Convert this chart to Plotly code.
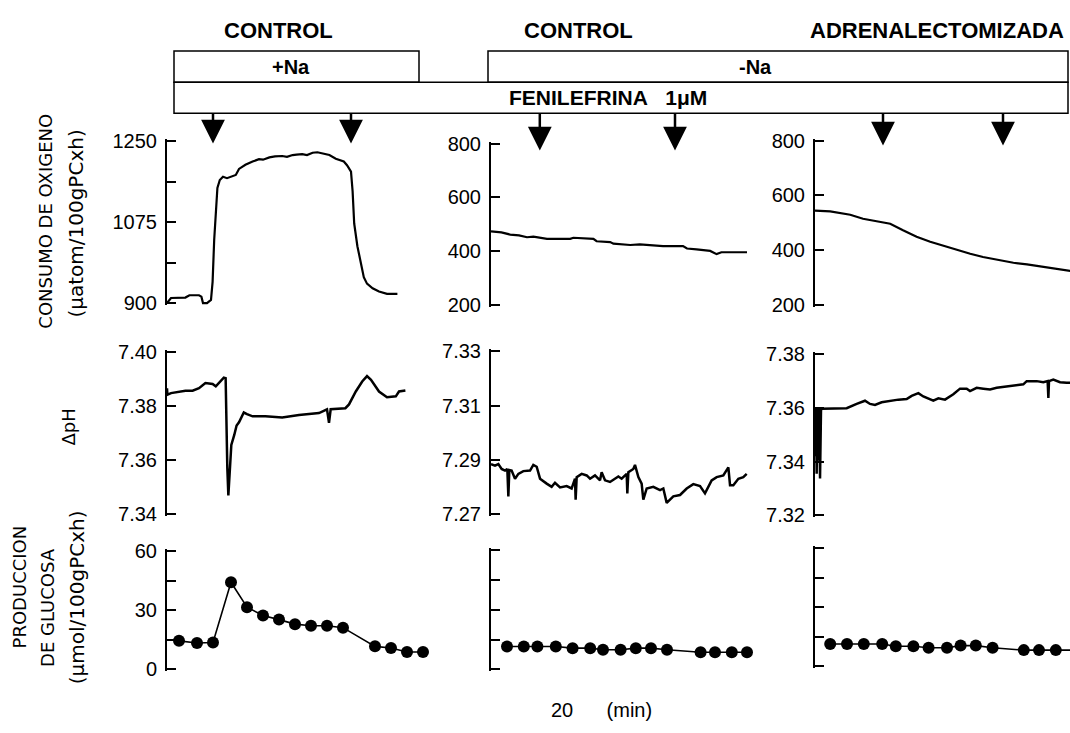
import plotly.graph_objects as go

W, H = 1070, 733

# ---------------- Oxygen consumption (time in min, µatom/100gPC·h) ----------------
t_o2_ctrl_na = [0.0, 0.5, 2.3, 2.8, 4.0, 4.3, 4.5, 5.0, 5.5, 5.7, 5.9, 6.1, 6.3, 6.6, 7.0, 7.5,
                8.2, 8.6, 9.0, 9.8, 10.7, 11.5, 12.0, 12.8, 13.5, 14.4, 15.0, 15.7, 16.2, 16.9,
                17.5, 18.2, 18.8, 19.4, 20.3, 21.1, 22.1, 22.5, 23.0, 23.2, 23.4, 23.8, 24.2,
                24.6, 25.0, 25.7, 26.5, 27.5, 28.8]
o2_ctrl_na = [900, 911, 912, 917, 917, 914, 900, 900, 907, 946, 1037, 1100, 1149, 1166, 1173, 1170,
              1174, 1177, 1190, 1199, 1206, 1211, 1210, 1215, 1217, 1218, 1216, 1220, 1221, 1222,
              1220, 1225, 1226, 1224, 1220, 1212, 1206, 1198, 1184, 1142, 1072, 1023, 988,
              956, 942, 932, 925, 920, 920]

t_o2_ctrl_sin_na = [0, 1.3, 2.4, 3.5, 4.5, 5.3, 7.0, 9.9, 10.3, 12.8, 13.2, 14.9, 15.3, 17.4,
                    18.6, 21.5, 24.0, 24.5, 25.7, 27.4, 28.2, 28.8, 32.0]
o2_ctrl_sin_na = [473, 469, 461, 458, 451, 453, 445, 445, 449, 445, 436, 433, 427, 422,
                  424, 418, 418, 409, 406, 400, 388, 395, 395]

t_o2_adx = [0, 1.9, 4.4, 6.0, 7.7, 9.4, 11.0, 12.7, 14.4, 16.0, 17.7, 19.4, 21.0, 22.7, 24.8,
            26.5, 28.5, 30.2, 31.9]
o2_adx = [544, 541, 529, 514, 505, 496, 472, 448, 430, 415, 400, 386, 374, 365, 353,
          347, 338, 332, 323]

# ---------------- pH ----------------
t_ph_ctrl_na = [0.0, 0.05, 0.5, 1.1, 2.3, 3.2, 4.0, 4.8, 5.7, 6.1, 6.5, 7.1, 7.33, 7.42, 7.54,
                7.67, 7.83, 8.04, 8.4, 8.7, 9.0, 9.6, 10.0, 10.7, 12.3, 14.4, 16.5, 19.0, 20.0,
                20.25, 20.46, 22.3, 22.75, 23.6, 24.4, 25.0, 25.5, 26.5, 27.5, 28.6, 29.0, 29.8]
ph_ctrl_na = [7.3867, 7.3843, 7.3849, 7.3852, 7.3858, 7.3858, 7.3867, 7.3886, 7.3883, 7.3874,
              7.3888, 7.3906, 7.3904, 7.3717, 7.3572, 7.3470, 7.3560, 7.3657, 7.3693, 7.3729,
              7.3741, 7.3777, 7.3771, 7.3763, 7.3763, 7.3759, 7.3768, 7.3775, 7.3789, 7.3739,
              7.3789, 7.3793, 7.3807, 7.3855, 7.3892, 7.3912, 7.3898, 7.3855, 7.3834, 7.3837,
              7.3855, 7.3859]

t_ph_ctrl_sin_na = [0, 0.5, 0.92, 1.33, 1.75, 2.04, 2.17, 2.29, 2.58, 3.0, 3.42, 4.04, 4.88, 5.29,
                    5.71, 6.13, 6.96, 7.58, 8.0, 8.63, 9.46, 10.08, 10.5, 10.58, 10.71, 11.33,
                    11.96, 12.38, 13.0, 13.63, 13.83, 14.25, 14.88, 15.5, 15.92, 16.33, 16.96,
                    17.04, 17.17, 17.79, 18.0, 18.42, 18.83, 19.04, 19.46, 20.29, 21.13, 21.54,
                    21.96, 22.79, 23.63, 24.46, 25.29, 26.13, 26.75, 27.58, 28.21, 29.04, 29.67,
                    29.88, 30.29, 30.92, 31.54, 31.96]
ph_ctrl_sin_na = [7.2885, 7.2879, 7.2885, 7.2867, 7.2861, 7.2867, 7.2766, 7.2863, 7.2861, 7.2831,
                  7.2849, 7.2859, 7.2861, 7.2882, 7.2875, 7.2831, 7.2813, 7.2801, 7.2816, 7.2799,
                  7.2804, 7.2795, 7.2831, 7.2754, 7.2837, 7.2849, 7.2843, 7.2831, 7.2843, 7.2825,
                  7.2855, 7.2825, 7.2819, 7.2831, 7.2839, 7.2831, 7.2849, 7.2777, 7.2855, 7.2867,
                  7.2882, 7.2837, 7.2813, 7.2754, 7.2795, 7.2801, 7.2789, 7.2795, 7.2742, 7.2766,
                  7.2771, 7.2795, 7.2811, 7.2804, 7.2777, 7.2825, 7.2837, 7.2843, 7.2873, 7.2807,
                  7.2807, 7.2831, 7.2837, 7.2849]

t_ph_adx = [0, 0.08, 0.13, 0.21, 0.27, 0.33, 0.42, 0.48, 0.54, 0.63, 0.69, 0.75, 0.83, 2.29, 3.96,
            5.21, 6.25, 6.88, 7.5, 8.33, 9.38, 10.42, 11.46, 12.08, 12.92, 13.54, 14.79, 15.42,
            16.25, 17.29, 18.13, 18.96, 19.38, 20.21, 21.04, 21.88, 22.71, 23.96, 24.79, 26.04,
            26.46, 27.71, 28.54, 29.08, 29.17, 29.25, 29.79, 30.63, 31.46, 31.88]
ph_adx = [7.3597, 7.3420, 7.3597, 7.3355, 7.3597, 7.3591, 7.3403, 7.3595, 7.3591, 7.3337, 7.3590,
          7.3591, 7.3597, 7.3597, 7.3599, 7.3615, 7.3627, 7.3615, 7.3611, 7.3621, 7.3627, 7.3631,
          7.3633, 7.3645, 7.3655, 7.3643, 7.3627, 7.3636, 7.3631, 7.3651, 7.3672, 7.3672, 7.3663,
          7.3675, 7.3672, 7.3669, 7.3675, 7.3679, 7.3684, 7.3688, 7.3700, 7.3700, 7.3696, 7.3700,
          7.3637, 7.3700, 7.3706, 7.3696, 7.3694, 7.3694]

# ---------------- Glucose production (µmol/100gPC·h) ----------------
t_glu_ctrl_na = [1.5, 3.75, 5.75, 8.0, 10.0, 12.0, 14.0, 16.0, 18.0, 20.0, 22.0, 26.0, 28.0, 30.0, 32.0]
glu_ctrl_na = [14.5, 13.4, 13.7, 44.3, 31.6, 27.4, 25.3, 23.0, 22.2, 22.2, 21.2, 11.7, 10.9, 8.8, 8.8]

t_glu_ctrl_sin_na = [2.0, 4.1, 5.8, 8.1, 10.2, 12.4, 14.0, 16.2, 18.1, 20.0, 22.0, 26.2, 28.0, 30.1, 32.0]
glu_ctrl_sin_na = [11.5, 11.5, 11.5, 11.5, 10.7, 10.7, 9.9, 9.9, 10.7, 10.7, 9.9, 8.6, 8.6, 8.6, 8.6]

t_glu_adx = [1.9, 4.0, 6.1, 8.4, 10.1, 12.3, 14.2, 16.5, 18.2, 20.1, 22.2, 26.1, 28.0, 30.1, 31.9]
glu_adx = [11.4, 11.4, 11.4, 11.4, 10.3, 10.3, 9.5, 9.5, 10.6, 10.6, 9.5, 8.3, 8.3, 8.3, 8.3]

# Phenylephrine additions / removals (min) per column
t_arrows = [[5.75, 23.0], [6.1, 23.0], [8.5, 23.5]]

# Axis scales
o2_ticks = [[900, 987.5, 1075, 1162.5, 1250], [200, 400, 600, 800], [200, 400, 600, 800]]
o2_labels = [["900", "", "1075", "", "1250"], ["200", "400", "600", "800"], ["200", "400", "600", "800"]]
ph_ticks = [[7.34, 7.36, 7.38, 7.40], [7.27, 7.29, 7.31, 7.33], [7.32, 7.34, 7.36, 7.38]]
ph_labels = [["7.34", "7.36", "7.38", "7.40"], ["7.27", "7.29", "7.31", "7.33"], ["7.32", "7.34", "7.36", "7.38"]]
glu_ticks = [0, 15, 30, 45, 60]
glu_labels = [["0", "", "30", "", "60"], [""] * 5, [""] * 5]


def px(x):
    return x / W


def py(y):
    return 1 - y / H


FONT = "Liberation Sans"
fig = go.Figure()

# column pixel extents and time windows
cols = [(167, 431, 33.0), (491, 755, 33.0), (815, 1070, 31.875)]
# row pixel extents (first and last tick) per column: (top, bottom)
rows_px = {
    "o2": [(135.5, 301.5), (138, 303), (135, 303)],
    "ph": [(352, 518), (351, 518), (354, 519)],
    "glu": [(556, 677), (555, 677), (553, 674)],
}

series = {
    "o2": [(t_o2_ctrl_na, o2_ctrl_na), (t_o2_ctrl_sin_na, o2_ctrl_sin_na), (t_o2_adx, o2_adx)],
    "ph": [(t_ph_ctrl_na, ph_ctrl_na), (t_ph_ctrl_sin_na, ph_ctrl_sin_na), (t_ph_adx, ph_adx)],
    "glu": [(t_glu_ctrl_na, glu_ctrl_na), (t_glu_ctrl_sin_na, glu_ctrl_sin_na), (t_glu_adx, glu_adx)],
}

END_PAD_PX = 2.0   # inside ticks at the very ends are dropped by plotly, so extend a little

layout_axes = {}
idx = 0
top_axis_ids = []
for rname in ["o2", "ph", "glu"]:
    for c in range(3):
        idx += 1
        sfx = "" if idx == 1 else str(idx)
        x0, x1, tmax = cols[c]
        ytop, ybot = rows_px[rname][c]
        if rname == "o2":
            tv, tt = o2_ticks[c], o2_labels[c]
        elif rname == "ph":
            tv, tt = ph_ticks[c], ph_labels[c]
        else:
            tv, tt = glu_ticks, glu_labels[c]
        pad = (tv[-1] - tv[0]) / (ybot - ytop) * END_PAD_PX
        layout_axes["xaxis" + sfx] = dict(domain=[px(x0), px(x1)], range=[0, tmax],
                                          visible=False, anchor="y" + sfx)
        layout_axes["yaxis" + sfx] = dict(
            domain=[py(ybot + END_PAD_PX), py(ytop - END_PAD_PX)],
            range=[tv[0] - pad, tv[-1] + pad], anchor="x" + sfx,
            tickvals=tv, ticktext=tt, ticks="inside", ticklen=9, tickwidth=2,
            tickcolor="black", showline=True, linecolor="black", linewidth=2,
            showgrid=False, zeroline=False, ticklabelstandoff=4,
            tickfont=dict(family=FONT, size=20, color="black"))
        t, v = series[rname][c]
        if rname == "glu":
            fig.add_trace(go.Scatter(x=t, y=v, mode="lines+markers",
                                     line=dict(color="black", width=1.6),
                                     marker=dict(color="black", size=12),
                                     xaxis="x" + sfx, yaxis="y" + sfx, cliponaxis=False))
        else:
            fig.add_trace(go.Scatter(x=t, y=v, mode="lines",
                                     line=dict(color="black", width=2.5 if rname == "ph" else 2.2),
                                     xaxis="x" + sfx, yaxis="y" + sfx))
        if rname == "o2":
            top_axis_ids.append("x" + sfx)

annotations = []
# arrows marking phenylephrine pulses
arrow_tips = [138, 145, 140]
for c in range(3):
    for ta in t_arrows[c]:
        annotations.append(dict(x=ta, xref=top_axis_ids[c], y=py(arrow_tips[c]), yref="paper",
                                text="", showarrow=True, ax=0, ay=-(arrow_tips[c] - 107),
                                arrowhead=2, arrowsize=1.9, arrowwidth=2.5, arrowcolor="black"))


def label(x, y, text, size=17, bold=False, angle=0, family=FONT):
    annotations.append(dict(x=px(x), y=py(y), xref="paper", yref="paper", text=text,
                            showarrow=False, textangle=angle, xanchor="center", yanchor="middle",
                            font=dict(family=family, size=size, color="black",
                                      weight="bold" if bold else "normal")))


# headers
label(278, 22, "CONTROL", size=22, bold=True)
label(578, 22, "CONTROL", size=22, bold=True)
label(937, 22, "ADRENALECTOMIZADA", size=22, bold=True)
label(291, 59, "+Na", size=20, bold=True)
label(755, 59, "-Na", size=20, bold=True)
label(608, 91, "FENILEFRINA\u00a0\u00a0\u00a01μM", size=21, bold=True)

# row titles
LBL = "DejaVu Sans"
label(46, 218, "CONSUMO DE OXIGENO", size=18, angle=-90, family=LBL)
label(76, 220, "(μatom/100gPCxh)", size=20, angle=-90, family=LBL)
label(68, 429, "ΔpH", size=18, angle=-90, family=LBL)
label(19, 593, "PRODUCCION", size=18, angle=-90, family=LBL)
label(48, 613, "DE GLUCOSA", size=18, angle=-90, family=LBL)
label(77, 603, "(μmol/100gPCxh)", size=20, angle=-90, family=LBL)

# time scale note
label(601, 719, "20\u00a0\u00a0\u00a0\u00a0\u00a0\u00a0(min)", size=20)

shapes = [
    dict(type="rect", xref="paper", yref="paper", x0=px(174), x1=px(419), y0=py(75), y1=py(43),
         line=dict(color="black", width=1.5)),
    dict(type="rect", xref="paper", yref="paper", x0=px(488), x1=px(1068), y0=py(75), y1=py(43),
         line=dict(color="black", width=1.5)),
    dict(type="rect", xref="paper", yref="paper", x0=px(174), x1=px(1068), y0=py(107), y1=py(75),
         line=dict(color="black", width=1.5)),
]

fig.update_layout(width=W, height=H, margin=dict(l=0, r=0, t=0, b=0),
                  paper_bgcolor="white", plot_bgcolor="white", showlegend=False,
                  annotations=annotations, shapes=shapes, **layout_axes)

fig.write_html("out.html")
